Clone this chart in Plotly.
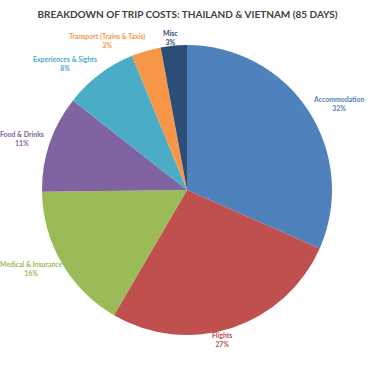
import math
import plotly.graph_objects as go

categories = ["Accommodation", "Flights", "Medical & Insurance", "Food & Drinks",
              "Experiences & Sights", "Transport (Trains & Taxis)", "Misc"]
values = [31.6, 26.8, 16.4, 10.8, 8.2, 3.3, 2.9]
title_text = "BREAKDOWN OF TRIP COSTS: THAILAND & VIETNAM (85 DAYS)"

colors = ["#4F81BD", "#C0504D", "#9BBB59", "#8064A2", "#4BACC6", "#F79646", "#2C4D75"]
label_angle_offset = [3.4, 5.0, 3.3, -1.5, -7.0, -11.6, -0.8]
label_radius_factor = [1.20, 1.06, 1.20, 1.19, 1.21, 1.17, 1.06]

W, H = 375, 366
cx, cy, R = 187, 190, 145

fig = go.Figure(go.Pie(
    labels=categories, values=values, sort=False, direction="clockwise",
    rotation=0, marker=dict(colors=colors, line=dict(width=0)),
    textinfo="none", hoverinfo="label+percent",
    domain=dict(x=[(cx - R) / W, (cx + R) / W], y=[1 - (cy + R) / H, 1 - (cy - R) / H]),
    showlegend=False,
))

total = sum(values)
cum = 0
annotations = []
for i, (name, v) in enumerate(zip(categories, values)):
    mid = (cum + v / 2) / total * 360 + label_angle_offset[i]
    cum += v
    r = R * label_radius_factor[i]
    px = cx + r * math.sin(math.radians(mid))
    py = cy - r * math.cos(math.radians(mid))
    pct = round(v / total * 100)
    annotations.append(dict(
        x=px / W, y=1 - py / H, xref="paper", yref="paper",
        text=f"<b>{name}</b><br><b>{pct}%</b>", showarrow=False,
        xanchor="center", yanchor="middle", align="center",
        font=dict(family="Lato, Open Sans, sans-serif", size=6.9, color=colors[i]),
    ))

fig.update_layout(
    width=W, height=H, margin=dict(l=0, r=0, t=0, b=0),
    paper_bgcolor="white", plot_bgcolor="white",
    title=dict(text=f"<b>{title_text}</b>", x=0.5, xanchor="center", y=1 - 14 / H, yanchor="middle",
               font=dict(family="Lato, Open Sans, sans-serif", size=10, color="#404040")),
    annotations=annotations,
)

fig.write_html("out.html", config={"displayModeBar": False},
               post_script="document.body.style.margin='0';")
